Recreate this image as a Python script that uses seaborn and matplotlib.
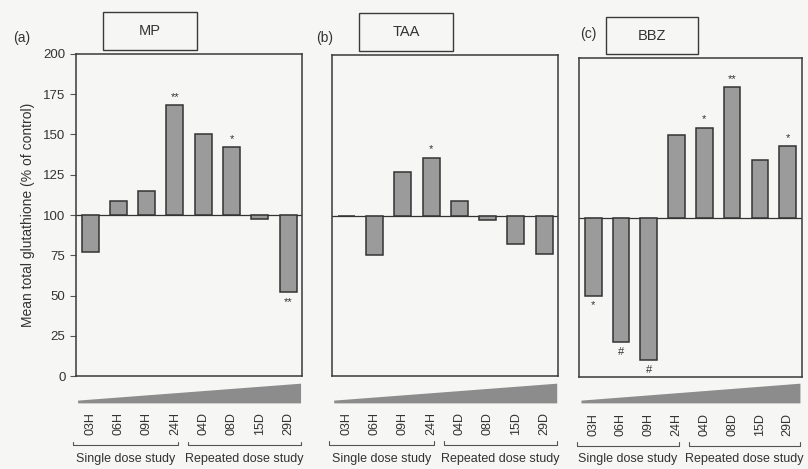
import pandas as pd
import seaborn as sns
import matplotlib.pyplot as plt
from matplotlib.patches import Rectangle
from matplotlib.transforms import blended_transform_factory

# Time points (single dose: hours, repeated dose: days)
time_points = ["03H", "06H", "09H", "24H", "04D", "08D", "15D", "29D"]

# Mean total glutathione (% of control) per compound
mp_values = [77, 109, 115, 168, 150, 142, 97.5, 52]
taa_values = [100, 75.5, 127, 136, 109, 97, 82, 76]
bbz_values = [51, 22, 10.5, 152, 156.5, 182, 136, 145]

# Significance marks drawn next to each bar
mp_marks = ["", "", "", "**", "", "*", "", "**"]
taa_marks = ["", "", "", "*", "", "", "", ""]
bbz_marks = ["*", "#", "#", "", "*", "**", "", "*"]

compounds = ["MP", "TAA", "BBZ"]
panel_tags = ["(a)", "(b)", "(c)"]
group_labels = ["Single dose study", "Repeated dose study"]

bg = "#f6f6f4"
bar_color = "#9b9b9b"
edge_color = "#333333"

sns.set_style("ticks")
plt.rcParams["font.family"] = ["Liberation Sans", "DejaVu Sans"]

fig = plt.figure(figsize=(8.08, 4.69), dpi=100, facecolor=bg)

# axes boxes in figure fraction: left, bottom, width, height
boxes = [(0.094, 0.198, 0.280, 0.687),
         (0.411, 0.198, 0.280, 0.685),
         (0.717, 0.196, 0.275, 0.680)]
tag_pos = [(0.016, 0.919), (0.391, 0.919), (0.718, 0.928)]

all_values = [mp_values, taa_values, bbz_values]
all_marks = [mp_marks, taa_marks, bbz_marks]

for i, (name, vals, marks) in enumerate(zip(compounds, all_values, all_marks)):
    ax = fig.add_axes(boxes[i])
    ax.set_facecolor(bg)
    df = pd.DataFrame({"time": time_points, "value": vals})
    df["delta"] = df["value"] - 100

    # bars start at the 100% control line
    sns.barplot(data=df, x="time", y="delta", order=time_points, color=bar_color,
                saturation=1, width=0.6, errorbar=None, bottom=100,
                edgecolor=edge_color, linewidth=1.1, ax=ax)
    ax.axhline(100, color=edge_color, lw=0.9, zorder=0.5)

    ax.set_xlim(-0.5, 7.5)
    ax.set_ylim(0, 200)
    ax.set_yticks(range(0, 201, 25))
    ax.set_xlabel("")
    ax.set_ylabel("")
    for sp in ax.spines.values():
        sp.set_visible(True)
        sp.set_color("#3a3a3a")
        sp.set_linewidth(1.1)

    ax.tick_params(axis="x", length=0, pad=26, labelsize=9, labelcolor="#333333")
    ax.set_xticks(range(len(time_points)))
    ax.set_xticklabels(time_points, rotation=90, va="top")
    if i == 0:
        ax.tick_params(axis="y", length=4, width=0.8, labelsize=9.5,
                       color="#555555", labelcolor="#333333")
        ax.set_ylabel("Mean total glutathione (% of control)", fontsize=10,
                      color="#333333", labelpad=6)
    else:
        ax.tick_params(axis="y", length=0, labelleft=False)

    # significance marks
    for x, (v, m) in enumerate(zip(vals, marks)):
        if not m:
            continue
        if v >= 100:
            ax.text(x, v + 2, m, ha="center", va="bottom", fontsize=8, color="#333333")
        else:
            ax.text(x, v - 3, m, ha="center", va="top", fontsize=8, color="#333333")

    # compound name box above the panel
    ax.add_patch(Rectangle((0.12, 1.012), 0.415, 0.118, transform=ax.transAxes,
                           fill=False, edgecolor="#3a3a3a", lw=1.0, clip_on=False))
    ax.text(0.3275, 1.071, name, transform=ax.transAxes, ha="center", va="center",
            fontsize=10.5, color="#333333")

    # brackets and study labels below the tick labels
    trans = blended_transform_factory(ax.transData, ax.transAxes)
    for (x0, x1), lab in zip([(-0.6, 3.1), (3.45, 7.45)], group_labels):
        ax.plot([x0, x0, x1, x1], [-0.203, -0.215, -0.215, -0.203], transform=trans,
                color="#555555", lw=0.8, clip_on=False)
        ax.text((x0 + x1) / 2, -0.257, lab, transform=trans, ha="center", va="center",
                fontsize=9, color="#333333")

    # dose wedge under the panel
    l, b, w, h = boxes[i]
    wax = fig.add_axes([l + 0.002, 0.141, w - 0.004, 0.042])
    wax.fill_between([0, 1], [0, 0], [0.14, 1], color="#8c8c8c", lw=0)
    wax.set_xlim(0, 1)
    wax.set_ylim(0, 1)
    wax.axis("off")

    fig.text(tag_pos[i][0], tag_pos[i][1], panel_tags[i], fontsize=10,
             color="#333333", va="center")

fig.savefig("out.png", dpi=100, facecolor=bg)
